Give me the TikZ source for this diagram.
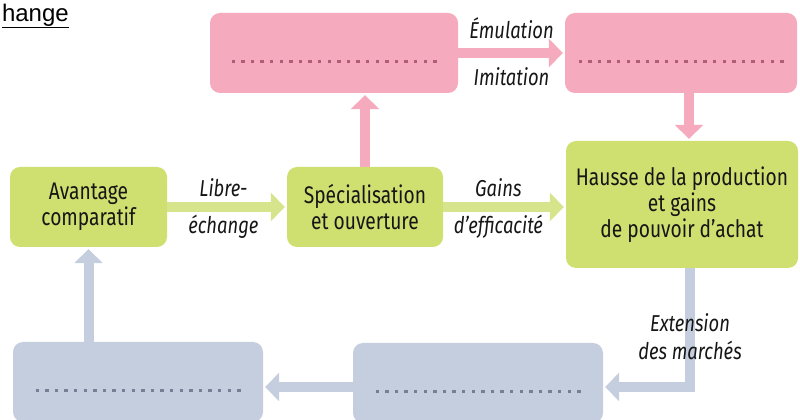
\documentclass[tikz,border=0pt]{standalone}
\usepackage{fontspec}
\setmainfont{Fira Sans}[FakeStretch=0.8]
\newfontfamily\headfont{Liberation Sans}
\usepackage{xcolor}
\usetikzlibrary{arrows.meta}
\definecolor{rose}{RGB}{245,170,190}
\definecolor{rosedot}{RGB}{176,92,122}
\definecolor{lime}{RGB}{208,224,112}
\definecolor{limearrow}{RGB}{214,228,140}
\definecolor{slate}{RGB}{197,206,222}
\definecolor{slatedot}{RGB}{118,128,148}
\definecolor{ink}{RGB}{22,22,22}
\newcommand{\dotrow}[1]{\raisebox{-10.5pt}[0pt][0pt]{\color{#1}\rule{3.4pt}{3.4pt}\foreach \d in {1,...,21}{\hspace{6.2pt}\rule{3.4pt}{3.4pt}}}}

\begin{document}
\begin{tikzpicture}[x=1pt,y=1pt,
    box/.style={rectangle,rounded corners=10pt,align=center,text=ink,inner sep=0pt,font=\fontsize{24}{26}\selectfont},
    pinkbox/.style={box,fill=rose,minimum height=80pt},
    greenbox/.style={box,fill=lime,minimum height=80pt},
    greybox/.style={box,fill=slate,minimum width=250pt,minimum height=80pt},
    flow/.style={line width=10pt,-{Triangle[width=28pt,length=14pt]},shorten >=2pt},
    lbl/.style={font=\fontsize{23}{24}\selectfont\itshape,text=ink}]
    \useasboundingbox (0,0) rectangle (800,420);
    \node[anchor=east,inner sep=0pt,font=\headfont\fontsize{24}{24}\selectfont] (title) at (69,404) {\underline{hange}};
    \node[pinkbox,minimum width=248pt] (emul) at (334,367) {\dotrow{rosedot}};
    \node[pinkbox,minimum width=232pt] (imit) at (681,367) {\dotrow{rosedot}};
    \node[greenbox,minimum width=157pt] (avantage) at (88.5,213) {Avantage\\comparatif};
    \node[greenbox,minimum width=156pt] (special) at (365,213) {Spécialisation\\et ouverture};
    \node[greenbox,minimum width=232pt,minimum height=127pt] (hausse) at (682,215.5) {Hausse de la production\\et gains\\de pouvoir d'achat};
    \node[greybox] (bleu1) at (138,38) {\dotrow{slatedot}};
    \node[greybox] (bleu2) at (478,37) {\dotrow{slatedot}};
    \draw[flow,draw=limearrow] (avantage.east) -- (special.west)
        node[lbl,pos=0.47,yshift=19pt]{Libre-}
        node[lbl,pos=0.47,yshift=-20pt]{échange};
    \draw[flow,draw=limearrow] (special.east) -- (special.east -| hausse.west)
        node[lbl,pos=0.45,yshift=19pt]{Gains}
        node[lbl,pos=0.45,yshift=-20pt]{d'efficacité};
    \draw[flow,draw=rose] (special.north) -- (special.north |- emul.south);
    \draw[flow,draw=rose] (emul.east) -- (imit.west)
        node[lbl,midway,yshift=25pt]{Émulation}
        node[lbl,midway,yshift=-24pt]{Imitation};
    \draw[flow,draw=rose] ([xshift=8pt]imit.south) -- ([xshift=8pt]imit.south |- hausse.north);
    \draw[flow,draw=slate] ([xshift=8pt]hausse.south) |- ([yshift=-4pt]bleu2.east)
        node[lbl,pos=0.23]{Extension}
        node[lbl,pos=0.345]{des marchés};
    \draw[flow,draw=slate] ([yshift=-4pt]bleu2.west) -- ([yshift=-4pt]bleu2.west -| bleu1.east);
    \draw[flow,draw=slate] (avantage.south |- bleu1.north) -- (avantage.south);
\end{tikzpicture}
\end{document}
